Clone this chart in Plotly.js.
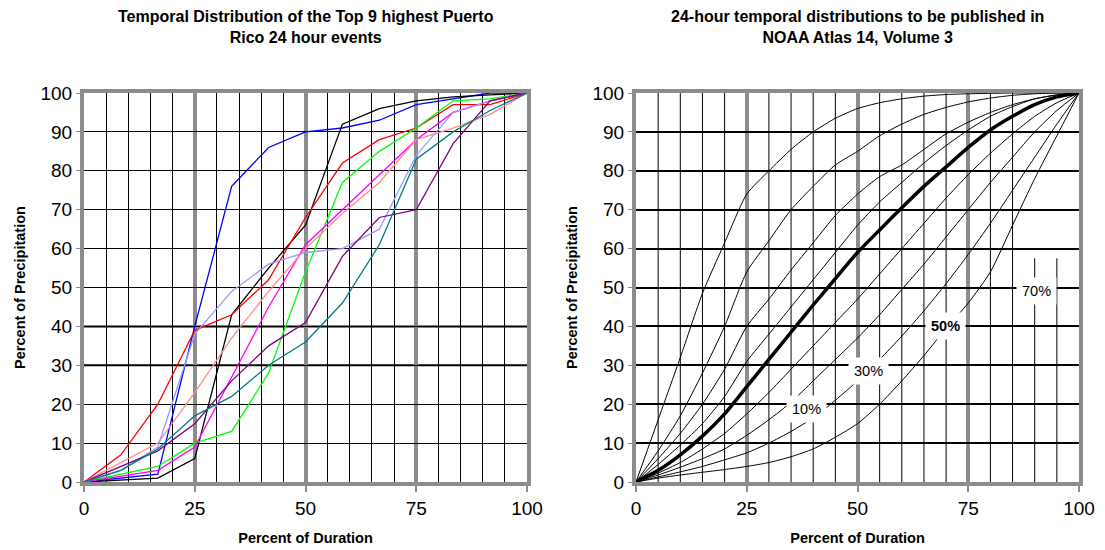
<!DOCTYPE html>
<html><head><meta charset="utf-8">
<script src="https://cdn.plot.ly/plotly-3.0.1.min.js"></script>
<style>html,body{margin:0;padding:0;background:#fff}#chart{width:1105px;height:550px}</style>
</head><body><div id="chart"></div>
<script>
// ---- Left chart: top 9 Puerto Rico 24-hour events (percent of duration vs percent of precipitation)
const durationPct = [0, 8.33, 16.67, 25, 33.33, 41.67, 50, 58.33, 66.67, 75, 83.33, 91.67, 100];
const eventBlue      = [0, 1, 2, 40, 76, 86, 90, 91, 93, 97, 98.5, 100, 100];
const eventBlack     = [0, 0.5, 1, 6, 43, 55, 66, 92, 96, 98, 99, 99.5, 100];
const eventRed       = [0, 7, 20, 39, 43, 52, 68, 82, 88, 91, 97, 97, 100];
const eventGreen     = [0, 2, 4, 10, 13, 28, 54, 77, 85, 91, 98, 98.5, 100];
const eventMagenta   = [0, 1.5, 3, 9, 27, 45, 61, 70, 79, 88, 95, 98, 100];
const eventSalmon    = [0, 5, 10, 23, 37, 49, 60, 69, 77, 88, 91, 94.5, 100];
const eventLightBlue = [0, 3, 9, 38, 49, 56, 59, 60, 65, 84, 95, 98, 100];
const eventPurple    = [0, 4, 8, 15, 26, 35, 41, 58, 68, 70, 87, 98, 100];
const eventTeal      = [0, 3, 8.5, 17, 22, 30, 36, 46, 61, 83, 90, 95.5, 100];
const eventColors = ['#0000FF','#000000','#FF0000','#00FF00','#FF00FF','#FF8C8C','#9999FF','#800080','#008080'];

// ---- Right chart: NOAA Atlas 14 Vol. 3 24-hour decile curves
const noaaDuration = [0,5,10,15,20,25,30,35,40,45,50,55,60,65,70,75,80,85,90,95,100];
const curve90 = [0,16,32,48.5,61.5,74,80,85.5,90,93.5,96,97.5,98.5,99.2,99.6,99.8,99.9,100,100,100,100];
const curve80 = [0,8,17,28,40,54,62,70,76,81.5,85,89,92,94.5,96.3,97.7,98.7,99.4,99.8,100,100];
const curve70 = [0,6,12.5,20,29,40,47,54.5,61.5,68.5,74,78.5,81.5,85.5,89.5,92.5,95,97,98.5,99.5,100];
const curve60 = [0,4.5,9.5,15,22,31,38,45,52,59,66,72,77,82,86.5,90.5,94,96.5,98.5,99.5,100];
const curve50 = [0,3,7,11.8,17.5,24.5,31.5,38.5,45.5,52.3,59,64.8,70.5,76,81,86,90.5,94,97,99,100];
const curve40 = [0,2.3,5,8.5,12.5,17.5,23,29,35,41,47,53.5,60,66.5,73,79,84.5,89.5,94,97.5,100];
const curve30 = [0,1.8,3.8,6,8.5,12,16,20.5,26,31.5,37,43,49.5,56,63,70,77,83.5,90,95.5,100];
const curve20 = [0,1.3,2.6,4,5.7,7.5,10,13,16.5,21,26,31.5,37.5,44,51,58.5,66.5,75,83.5,92,100];
const curve10 = [0,1,1.8,2.5,3.2,4,5,6.5,8.5,11.5,15,20,26,32.5,39.5,46,54,66,78,89,100];

const pctLabels = ['10%','30%','50%','70%'];
const pctLabelX = [38.5, 52.5, 69.8, 90.5];
const pctLabelY = [18.8, 28.5, 40, 49];

const xTicks = [0,25,50,75,100];
const yTicks = [0,10,20,30,40,50,60,70,80,90,100];
const fineGridX = [5,10,15,20,30,35,40,45,55,60,65,70,80,85,90,95];

const FONT = 'Liberation Sans, Arial, sans-serif';
const GRAY = '#8c8c8c';

const traces = [];
const leftSeries = [eventBlue, eventBlack, eventRed, eventGreen, eventMagenta, eventSalmon, eventLightBlue, eventPurple, eventTeal];
leftSeries.forEach((ys, i) => {
  traces.push({x: durationPct, y: ys, type: 'scatter', mode: 'lines', xaxis: 'x', yaxis: 'y',
    line: {color: eventColors[i], width: 1.3}, showlegend: false, hoverinfo: 'skip'});
});
const rightSeries = [curve90, curve80, curve70, curve60, curve50, curve40, curve30, curve20, curve10];
rightSeries.forEach((ys, i) => {
  traces.push({x: noaaDuration, y: ys, type: 'scatter', mode: 'lines', xaxis: 'x2', yaxis: 'y2',
    line: {color: '#000', width: i === 4 ? 3.5 : 1, shape: 'spline', smoothing: 0.6}, showlegend: false, hoverinfo: 'skip'});
});

function xAxis(domain, anchor, withMinor) {
  const ax = {domain: domain, anchor: anchor, range: [0, 100], tickvals: xTicks, ticks: 'outside', ticklen: 6,
    tickcolor: GRAY, tickwidth: 2, showgrid: true, gridcolor: GRAY, gridwidth: 4,
    showline: true, linecolor: GRAY, linewidth: 4, mirror: true, zeroline: false,
    tickfont: {family: FONT, size: 19, color: '#000'},
    title: {text: '<b>Percent of Duration</b>', font: {family: FONT, size: 14.5, color: '#000'}, standoff: 16}};
  if (withMinor) ax.minor = {dtick: 5, showgrid: true, gridcolor: '#000', gridwidth: 1, ticks: ''};
  return ax;
}
function yAxis(domain, anchor, gw) {
  return {domain: domain, anchor: anchor, range: [0, 100], tickvals: yTicks, ticks: 'outside', ticklen: 4,
    tickcolor: GRAY, tickwidth: 1, showgrid: true, gridcolor: '#000', gridwidth: gw,
    showline: true, linecolor: GRAY, linewidth: 4, mirror: true, zeroline: false,
    tickfont: {family: FONT, size: 19, color: '#000'},
    title: {text: '<b>Percent of Precipitation</b>', font: {family: FONT, size: 14.5, color: '#000'}, standoff: 12}};
}

const yDom = [1 - 482/550, 1 - 93/550];
const shapes = [30, 40].map(v => ({type: 'line', xref: 'x domain', yref: 'y', x0: 0, x1: 1, y0: v, y1: v,
    line: {color: '#000', width: 2}, layer: 'below'}));
// fine vertical grid of the NOAA chart (the two right-most lines stop part way up)
fineGridX.forEach(v => shapes.push({type: 'line', xref: 'x2', yref: 'y2', x0: v, x1: v, y0: 0,
  y1: v >= 90 ? 57.5 : 100, line: {color: '#000', width: 1}, layer: 'below'}));

const layout = {
  width: 1105, height: 550, margin: {l: 0, r: 0, t: 0, b: 0},
  paper_bgcolor: '#fff', plot_bgcolor: '#fff',
  font: {family: FONT, color: '#000'},
  xaxis: xAxis([84/1105, 527/1105], 'y', true),
  yaxis: yAxis(yDom, 'x', 1),
  xaxis2: xAxis([636/1105, 1079/1105], 'y2', false),
  yaxis2: yAxis(yDom, 'x2', 2),
  shapes: shapes,
  annotations: [
    {text: '<b>Temporal Distribution of the Top 9 highest Puerto<br>Rico 24 hour events</b>', xref: 'paper', yref: 'paper',
      x: 306/1105, y: 1 - 6/550, xanchor: 'center', yanchor: 'top', showarrow: false,
      font: {family: FONT, size: 16, color: '#000'}},
    {text: '<b>24-hour temporal distributions to be published in<br>NOAA Atlas 14, Volume 3</b>', xref: 'paper', yref: 'paper',
      x: 857/1105, y: 1 - 6/550, xanchor: 'center', yanchor: 'top', showarrow: false,
      font: {family: FONT, size: 16, color: '#000'}}
  ].concat(pctLabels.map((t, i) => ({text: t === '50%' ? '<b>' + t + '</b>' : t, xref: 'x2', yref: 'y2',
    x: pctLabelX[i], y: pctLabelY[i], showarrow: false, bgcolor: '#fff', borderpad: 5,
    font: {family: FONT, size: 14.5, color: '#000'}})))
};

Plotly.newPlot('chart', traces, layout, {staticPlot: true, displayModeBar: false});
</script>
</body></html>
